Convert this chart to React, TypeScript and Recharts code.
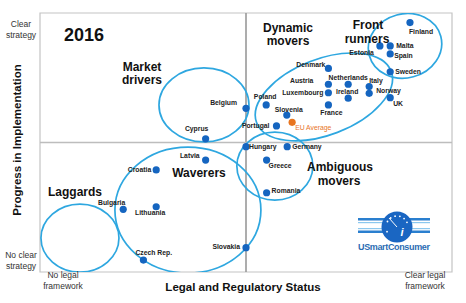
import { ReferenceArea, ReferenceLine, Scatter, ScatterChart, XAxis, YAxis } from "recharts";

const countries = [
  "Finland", "Malta", "Estonia", "Spain", "Sweden", "Denmark", "Austria", "Netherlands",
  "Luxembourg", "Ireland", "Italy", "Norway", "UK", "France", "Poland", "Slovenia",
  "Portugal", "Belgium", "Cyprus", "Hungary", "Germany", "Greece", "Romania", "Latvia",
  "Croatia", "Lithuania", "Bulgaria", "Czech Rep.", "Slovakia",
];
const legalStatus = [
  8.98, 8.5, 8.25, 8.5, 8.5, 7.0, 7.0, 7.48,
  7.0, 7.48, 7.99, 7.99, 8.5, 7.0, 5.49, 5.99,
  5.74, 5.0, 4.02, 5.0, 6.0, 5.5, 5.5, 4.02,
  2.82, 2.82, 2.02, 2.51, 5.0,
];
const implementation = [
  9.63, 8.73, 8.73, 8.42, 7.73, 7.86, 7.25, 7.25,
  6.92, 6.71, 7.16, 6.9, 6.73, 6.45, 6.45, 6.06,
  5.64, 6.32, 5.14, 4.84, 4.84, 4.32, 3.06, 4.32,
  3.94, 2.52, 2.42, 0.46, 0.94,
];
const euAverage = { name: "EU Average", x: 6.12, y: 5.78 };

// cluster circles: centre in chart units
const groupNames = ["Front runners", "Dynamic movers", "Market drivers", "Ambiguous movers", "Waverers", "Laggards"];
const groupLegal = [8.86, 6.89, 3.98, 5.7, 3.59, 0.97];
const groupProgress = [8.73, 6.76, 6.45, 4.09, 2.39, 1.31];

// outline size [rx, ry, rotation] in px
const groupShape: Record<string, [number, number, number]> = {
  "Front runners": [37, 32, -15],
  "Dynamic movers": [72, 38, -21],
  "Market drivers": [45, 37, 0],
  "Ambiguous movers": [38, 34, 0],
  Waverers: [73, 63, 0],
  Laggards: [39, 34, 0],
};

// label placement [dx, dy, anchor]
const labelPos: Record<string, [number, number, string]> = {
  Finland: [-1, 9, "start"],
  Malta: [6, 0, "start"],
  Estonia: [-6, 7, "end"],
  Spain: [4, 2, "start"],
  Sweden: [5, 0, "start"],
  Denmark: [-3, -4, "end"],
  Austria: [-15, -4, "end"],
  Netherlands: [0, -7, "middle"],
  Italy: [0, -6, "start"],
  Luxembourg: [-5, 0, "end"],
  Ireland: [-1, -7, "middle"],
  Norway: [7, -3, "start"],
  UK: [3, 6, "start"],
  France: [3, 8, "middle"],
  Poland: [-1, -8, "middle"],
  Slovenia: [2, -6, "middle"],
  Portugal: [-7, 0, "end"],
  Belgium: [-9, -6, "end"],
  Cyprus: [-9, -10, "middle"],
  Hungary: [3, 0, "start"],
  Germany: [5, 0, "start"],
  Greece: [2, 5, "start"],
  Romania: [5, -2, "start"],
  Latvia: [-6, -5, "end"],
  Croatia: [-5, 0, "end"],
  Lithuania: [-6, 6, "middle"],
  Bulgaria: [2, -7, "end"],
  "Czech Rep.": [-8, -8, "start"],
  Slovakia: [-6, -1, "end"],
  "EU Average": [3, 5, "start"],
};

const points = countries.map((name, i) => ({ name, x: legalStatus[i], y: implementation[i] }));
const groups = groupNames.map((name, i) => ({ name, x: groupLegal[i], y: groupProgress[i] }));

const FONT = "'Liberation Sans', Arial, sans-serif";
const DOT = "#1565c0";
const RING = "#2ea7e0";

function CountryDot(props: any) {
  const { cx, cy, payload, fill } = props;
  const [dx, dy, anchor] = labelPos[payload.name] || [5, 0, "start"];
  const isAvg = payload.name === "EU Average";
  return (
    <g>
      <circle cx={cx} cy={cy} r={3.6} fill={fill} />
      <text
        x={cx + dx}
        y={cy + dy}
        textAnchor={anchor as any}
        dominantBaseline="central"
        fontFamily={FONT}
        fontSize={6.8}
        fontWeight={isAvg ? 400 : 700}
        fill={isAvg ? "#e8751f" : "#222"}
      >
        {payload.name}
      </text>
    </g>
  );
}

function GroupRing(props: any) {
  const { cx, cy, payload } = props;
  const [rx, ry, rot] = groupShape[payload.name];
  return (
    <ellipse
      cx={cx}
      cy={cy}
      rx={rx}
      ry={ry}
      transform={`rotate(${rot} ${cx} ${cy})`}
      fill="none"
      stroke={RING}
      strokeWidth={1.7}
    />
  );
}

function XTick(props: any) {
  const { x, y, payload } = props;
  const left = payload.value === 0;
  const lines = left ? ["No legal", "framework"] : ["Clear legal", "framework"];
  const tx = left ? x + 23 : x - 27;
  return (
    <text x={tx} y={y + 6} textAnchor="middle" fontFamily={FONT} fontSize={8.5} fill="#333">
      <tspan x={tx} dy={0}>{lines[0]}</tspan>
      <tspan x={tx} dy={11}>{lines[1]}</tspan>
    </text>
  );
}

function YTick(props: any) {
  const { y, payload } = props;
  const top = payload.value === 10;
  const lines = top ? ["Clear", "strategy"] : ["No clear", "strategy"];
  const ty = top ? y + 14 : y - 14;
  return (
    <text x={21} y={ty} textAnchor="middle" fontFamily={FONT} fontSize={8.5} fill="#333">
      <tspan x={21} dy={0}>{lines[0]}</tspan>
      <tspan x={21} dy={11}>{lines[1]}</tspan>
    </text>
  );
}

const groupTitles: [string, number, number][] = [
  ["Market", 142, 67],
  ["drivers", 142, 80],
  ["Dynamic", 288, 28],
  ["movers", 288, 41],
  ["Front", 368, 25],
  ["runners", 367, 39],
  ["Ambiguous", 340, 167],
  ["movers", 339, 181],
  ["Waverers", 199, 173],
  ["Laggards", 75, 192],
];

function Overlay() {
  return (
    <svg
      width={466}
      height={303}
      style={{ position: "absolute", left: 0, top: 0, pointerEvents: "none" }}
    >
      <text x={84} y={35} textAnchor="middle" dominantBaseline="central" fontFamily={FONT} fontSize={18} fontWeight={700} fill="#111">
        2016
      </text>
      {groupTitles.map(([t, x, y], i) => (
        <text key={i} x={x} y={y} textAnchor="middle" dominantBaseline="central" fontFamily={FONT} fontSize={12} fontWeight={700} fill="#111">
          {t}
        </text>
      ))}
      <text x={243} y={287} textAnchor="middle" dominantBaseline="central" fontFamily={FONT} fontSize={11.5} fontWeight={700} fill="#111">
        Legal and Regulatory Status
      </text>
      <text
        x={17}
        y={140}
        textAnchor="middle"
        dominantBaseline="central"
        transform="rotate(-90 17 140)"
        fontFamily={FONT}
        fontSize={11.5}
        fontWeight={700}
        fill="#111"
      >
        Progress in Implementation
      </text>
      {/* USmartConsumer logo */}
      <g>
        <rect x={358} y={218} width={72} height={2.5} fill="#2a7fcf" />
        <rect x={358} y={222} width={72} height={1.2} fill="#8cc8ee" />
        <rect x={358} y={228} width={72} height={1.2} fill="#8cc8ee" />
        <rect x={358} y={230.5} width={72} height={2.5} fill="#2a7fcf" />
        <circle cx={397} cy={227} r={15.5} fill="#1a66c2" />
        {[-150, -125, -100, -75, -50, -25, 155].map((a, i) => {
          const r = (a * Math.PI) / 180;
          return (
            <circle key={i} cx={397 + 11 * Math.cos(r)} cy={227 + 11 * Math.sin(r)} r={0.9} fill="#fff" />
          );
        })}
        <line x1={397} y1={227} x2={389} y2={218} stroke="#fff" strokeWidth={1} />
        <text x={402} y={236} textAnchor="middle" fontFamily={FONT} fontSize={11} fontStyle="italic" fontWeight={700} fill="#fff">
          i
        </text>
        <text x={394} y={250} textAnchor="middle" fontFamily={FONT} fontSize={9} fontWeight={700} fill="#2b6cb3" textLength={72}>
          USmartConsumer
        </text>
      </g>
    </svg>
  );
}

export default function App() {
  return (
    <div style={{ position: "absolute", left: 0, top: 0, width: 466, height: 303, background: "#fff" }}>
      <ScatterChart width={466} height={303} margin={{ top: 13, right: 14, bottom: 0, left: 0 }}>
        <XAxis
          type="number"
          dataKey="x"
          domain={[0, 10]}
          ticks={[0, 10]}
          height={31}
          axisLine={false}
          tickLine={false}
          tickSize={0}
          tickMargin={0}
          tick={<XTick />}
          allowDataOverflow
        />
        <YAxis
          type="number"
          dataKey="y"
          domain={[0, 10]}
          ticks={[0, 10]}
          width={40}
          axisLine={false}
          tickLine={false}
          tickSize={0}
          tickMargin={0}
          tick={<YTick />}
          allowDataOverflow
        />
        <ReferenceArea x1={0} x2={10} y1={0} y2={10} fill="none" stroke="#c4c4c4" strokeWidth={1.2} />
        <ReferenceLine x={5} stroke="#999" strokeWidth={1.6} />
        <ReferenceLine y={5} stroke="#bdbdbd" strokeWidth={1.3} />
        <Scatter data={groups} shape={<GroupRing />} isAnimationActive={false} />
        <Scatter data={points} fill={DOT} shape={<CountryDot />} isAnimationActive={false} />
        <Scatter data={[euAverage]} fill="#e8751f" shape={<CountryDot />} isAnimationActive={false} />
      </ScatterChart>
      <Overlay />
    </div>
  );
}
